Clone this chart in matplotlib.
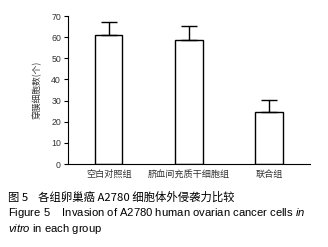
import matplotlib
matplotlib.use('Agg')
import matplotlib.pyplot as plt

plt.rcParams['font.family'] = ['Noto Sans CJK SC', 'DejaVu Sans']
plt.rcParams['mathtext.fontset'] = 'custom'
plt.rcParams['mathtext.rm'] = 'Liberation Sans'
plt.rcParams['mathtext.it'] = 'Liberation Sans:italic'

groups = ['空白对照组', '脐血间充质干细胞组', '联合组']
means = [61, 58.5, 24.5]
errs = [6, 6.8, 5.6]
yticks = [0, 10, 20, 30, 40, 50, 60, 70]

fig = plt.figure(figsize=(3.28, 2.47), dpi=100)
ax = fig.add_axes([0.207, 0.336, 0.738, 0.599])

x = range(len(groups))
ax.bar(x, means, width=0.34, color='white', edgecolor='black', linewidth=1.0,
       yerr=[[0] * len(errs), errs], capsize=6,
       error_kw={'elinewidth': 1.0, 'capthick': 1.0, 'ecolor': 'black'})

ax.set_xlim(-0.51, 2.51)
ax.set_ylim(0, 70)
ax.set_yticks(yticks)
ax.set_xticks(list(x))
ax.set_xticklabels(groups, fontsize=6.6, color='#333333')
ax.tick_params(axis='x', length=0, pad=4)
ax.tick_params(axis='y', labelsize=6.3, length=3, width=0.8, pad=2, labelcolor='#333333')
for lab in ax.get_yticklabels():
    lab.set_family('Liberation Sans')
ax.spines['top'].set_visible(False)
ax.spines['right'].set_visible(False)
ax.spines['left'].set_linewidth(0.8)
ax.spines['bottom'].set_linewidth(0.8)
ax.set_ylabel('穿膜细胞数(个)', fontsize=6.3, color='#333333', labelpad=7)

fig.text(0.025, 0.202, '图 5    各组卵巢癌 A2780 细胞体外侵袭力比较', fontsize=8.2, va='center')
fig.text(0.025, 0.138, 'Figure 5    Invasion of A2780 human ovarian cancer cells $\\mathit{in}$', fontsize=8.1,
         va='center', family='Liberation Sans')
fig.text(0.025, 0.073, '$\\mathit{vitro}$ in each group', fontsize=8.1, va='center', family='Liberation Sans')

fig.savefig('out.png', dpi=100)
